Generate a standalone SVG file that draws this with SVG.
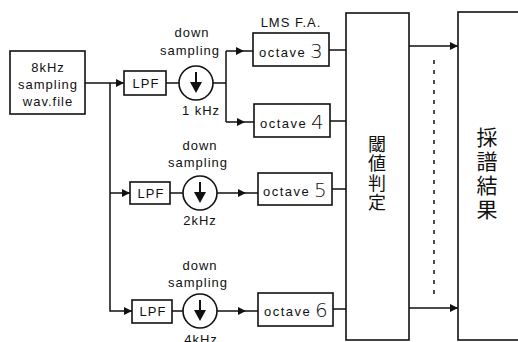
<svg xmlns="http://www.w3.org/2000/svg" width="518" height="342" viewBox="0 0 518 342">
<style>
.box{fill:#fff;stroke:#111;stroke-width:1.6}
.ln{fill:none;stroke:#111;stroke-width:1.5}
.t{font-family:"Liberation Sans",Arial,sans-serif;font-size:13px;letter-spacing:1px;fill:#111;text-anchor:middle}
.oct{font-family:"Liberation Sans",Arial,sans-serif;font-size:13px;letter-spacing:1.5px;fill:#111}
.dig{font-family:"DejaVu Sans","Liberation Sans",sans-serif;font-weight:200;font-size:20px;fill:#111}
.jp{font-family:"Noto Sans CJK JP","Noto Sans CJK SC",sans-serif;fill:#111;writing-mode:vertical-rl}
</style>
<defs>
<path id="ah" d="M0 0 L-8 -4 L-8 4 Z" fill="#111"/>
<g id="ds">
<circle cx="0" cy="0" r="17" fill="#fff" stroke="#111" stroke-width="1.6"/>
<line x1="0" y1="-11" x2="0" y2="0" stroke="#111" stroke-width="2"/>
<path d="M-6 -1 L6 -1 L0 10 Z" fill="#111"/>
</g>
</defs>
<rect width="518" height="342" fill="#fff"/>

<g id="connectors">
<path class="ln" d="M85 83 H124"/>
<use href="#ah" x="124" y="83"/>
<path class="ln" d="M110 83 V311 H132"/>
<path class="ln" d="M110 193 H130"/>
<use href="#ah" x="130" y="193"/>
<use href="#ah" x="132" y="311"/>
<path class="ln" d="M166 83 H180"/>
<path class="ln" d="M212 83 H226 M226 51 V122 M226 51 H253 M226 122 H254"/>
<use href="#ah" x="244" y="51"/>
<use href="#ah" x="245" y="122"/>
<path class="ln" d="M170 193 H183 M217 193 H258"/>
<use href="#ah" x="246" y="193"/>
<path class="ln" d="M172 311 H183 M217 311 H258"/>
<use href="#ah" x="246" y="311"/>
<path class="ln" d="M329 50 H346 M330 121 H346 M332 189 H346 M333 309 H346"/>
<path class="ln" d="M409 46 H458 M409 308 H458"/>
<use href="#ah" x="458" y="46"/>
<use href="#ah" x="458" y="308"/>
<path d="M434 60 V298" stroke="#111" stroke-width="1.5" stroke-dasharray="4,6" fill="none"/>
</g>

<g id="input">
<rect class="box" x="10" y="51" width="75" height="63"/>
<text class="t" x="48" y="72">8kHz</text>
<text class="t" x="48" y="89">sampling</text>
<text class="t" x="48" y="106">wav.file</text>
</g>

<g id="lpf1"><rect class="box" x="124" y="71" width="42" height="24"/><text class="t" x="146" y="88">LPF</text></g>
<g id="lpf2"><rect class="box" x="130" y="182" width="40" height="22"/><text class="t" x="151" y="198">LPF</text></g>
<g id="lpf3"><rect class="box" x="132" y="300" width="40" height="23"/><text class="t" x="153" y="316">LPF</text></g>

<g id="ds1"><use href="#ds" x="196" y="83"/>
<text class="t" x="192" y="37">down</text><text class="t" x="190" y="55">sampling</text>
<text class="t" x="201" y="115">1 kHz</text></g>
<g id="ds2"><use href="#ds" x="200" y="193"/>
<text class="t" x="200" y="150">down</text><text class="t" x="198" y="167">sampling</text>
<text class="t" x="200" y="225">2kHz</text></g>
<g id="ds3"><use href="#ds" x="200" y="311"/>
<text class="t" x="200" y="270">down</text><text class="t" x="198" y="287">sampling</text>
<text class="t" x="201" y="344">4kHz</text></g>

<text class="t" x="291" y="27">LMS F.A.</text>
<g id="oct3"><rect class="box" x="253" y="33" width="76" height="33"/><text class="oct" x="259" y="57">octave</text><text class="dig" x="310" y="58">3</text></g>
<g id="oct4"><rect class="box" x="254" y="104" width="76" height="33"/><text class="oct" x="260" y="128">octave</text><text class="dig" x="311" y="129">4</text></g>
<g id="oct5"><rect class="box" x="258" y="173" width="74" height="32"/><text class="oct" x="263" y="196">octave</text><text class="dig" x="314" y="197">5</text></g>
<g id="oct6"><rect class="box" x="258" y="293" width="75" height="33"/><text class="oct" x="264" y="316">octave</text><text class="dig" x="315" y="317">6</text></g>

<g id="threshold"><rect class="box" x="346" y="13" width="63" height="327"/>
<text class="jp" font-size="18" letter-spacing="1.5" x="377" y="135">閾値判定</text></g>
<g id="result"><rect class="box" x="458" y="12" width="70" height="328"/>
<text class="jp" font-size="21" letter-spacing="3" x="487" y="127">採譜結果</text></g>
</svg>
